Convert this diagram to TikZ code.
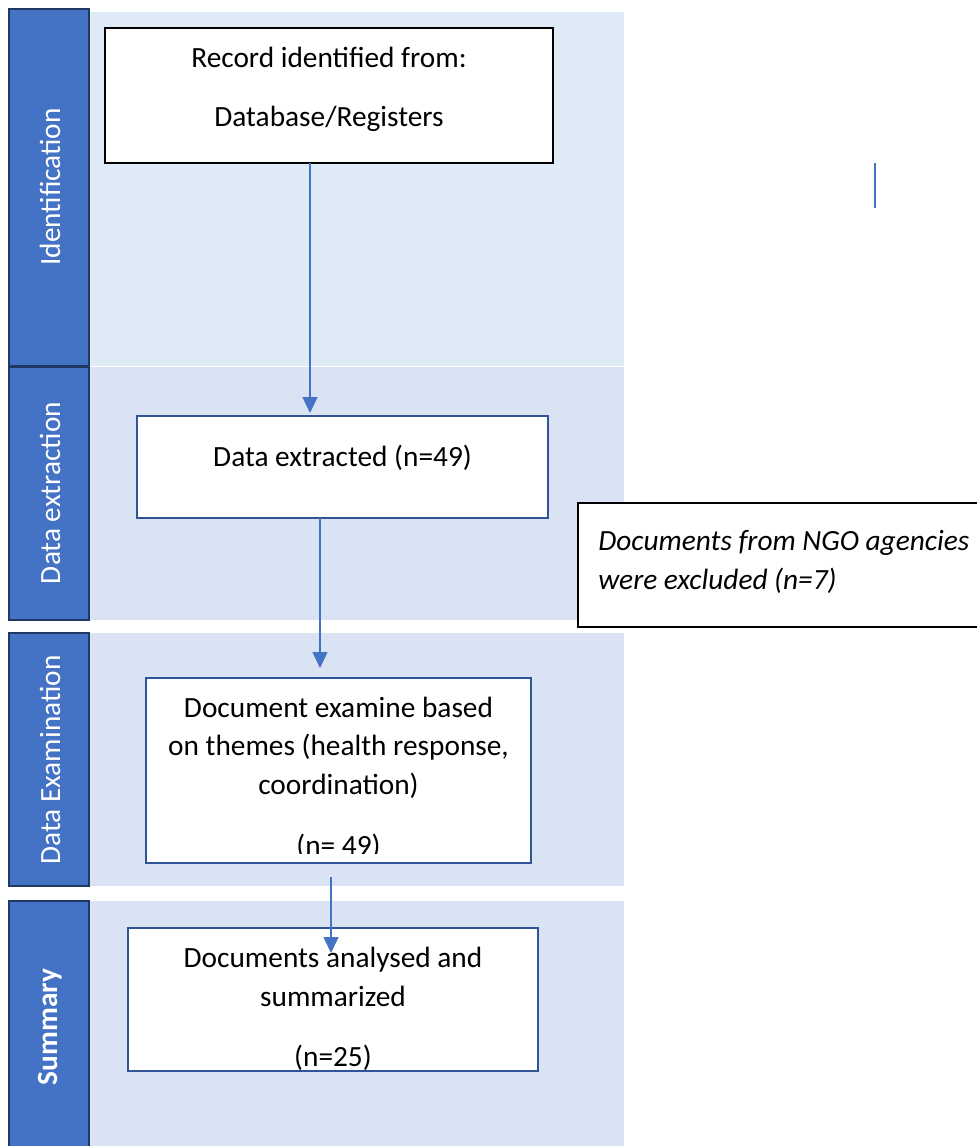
\documentclass[tikz,border=0pt]{standalone}
\usepackage{fontspec}
\setmainfont{Carlito}
\usetikzlibrary{arrows.meta,calc}
\definecolor{sidefill}{HTML}{4472C4}
\definecolor{sideline}{HTML}{1F3864}
\definecolor{panelA}{HTML}{DEEBF7}
\definecolor{panelB}{HTML}{DAE3F3}
\definecolor{boxline}{HTML}{2F5597}
\definecolor{arrowc}{HTML}{4472C4}
\begin{document}
\begin{tikzpicture}[x=0.75pt,y=-0.75pt,
  font=\fontsize{22}{26}\selectfont,
  side/.style={fill=sidefill,draw=sideline,line width=1.8pt},
  sidetext/.style={text=white,rotate=90,anchor=center,inner sep=0pt},
  box/.style={draw=boxline,fill=white,line width=1.7pt,inner sep=0pt,outer sep=0pt},
  blackbox/.style={draw=black,fill=white,line width=0.9pt,inner sep=0pt,outer sep=0pt},
  txt/.style={anchor=base,inner sep=0pt},
  arr/.style={draw=arrowc,line width=1.1pt,-{Triangle[width=11.25pt,length=12pt]}}]
\useasboundingbox (0,0) rectangle (976,1146);
% panels
\fill[panelA] (89,12) rectangle (624,366);
\fill[panelB] (89,367) rectangle (624,620);
\fill[panelB] (89,633) rectangle (624,886);
\fill[panelB] (89,901) rectangle (624,1160);
% sidebars
\draw[side] (9,9) rectangle (89,366);
\draw[side] (9,367) rectangle (89,620);
\draw[side] (9,633) rectangle (89,886);
\draw[side] (9,901) rectangle (89,1170);
\node[sidetext] (s1) at (50,187) {Identification};
\node[sidetext] (s2) at (50,493) {Data extraction};
\node[sidetext] (s3) at (50,760) {Data Examination};
\node[sidetext,font=\fontsize{22}{26}\selectfont\bfseries] (s4) at (50,1027) {Summary};
% boxes
\node[blackbox,minimum width=336pt,minimum height=101.25pt] (rec) at (329,95.5) {};
\node[box,minimum width=308.25pt,minimum height=76.5pt] (ext) at (342.5,467) {};
\node[box,minimum width=288.75pt,minimum height=138.75pt] (exa) at (338.5,770.5) {};
\node[box,minimum width=307.5pt,minimum height=107.25pt] (sum) at (333,999.5) {};
\node[blackbox,line width=1.2pt,minimum width=312.75pt,minimum height=93pt] (ngo) at (786.5,565) {};
% texts
\node[txt] (t1) at (329,67.5) {Record identified from:};
\node[txt] (t2) at (329,126.5) {Database/Registers};
\node[txt] (t3) at (342.5,466.5) {Data extracted (n=49)};
\node[txt] (t4) at (338.5,717.5) {Document examine based};
\node[txt] (t5) at (338.5,755.5) {on themes (health response,};
\node[txt] (t6) at (338.5,794) {coordination)};
\begin{scope}
\clip (146,678) rectangle (531,853);
\node[txt] (t7) at (338.5,855) {(n= 49)};
\end{scope}
\node[txt] (t8) at (333,967.5) {Documents analysed and};
\node[txt] (t9) at (333,1006.5) {summarized};
\node[txt] (t10) at (333,1066.5) {(n=25)};
\node[txt,anchor=base west,font=\fontsize{22}{26}\selectfont\itshape] (t11) at (598,550.5) {Documents from NGO agencies};
\node[txt,anchor=base west,font=\fontsize{22}{26}\selectfont\itshape] (t12) at (598,589.5) {were excluded (n=7)};
% connectors
\draw[arr,shorten >=2.25pt] (rec.south -| 310,0) -- (ext.north -| 310,0);
\draw[arr,shorten >=7.5pt] (ext.south -| 320,0) -- (exa.north -| 320,0);
\draw[arr,shorten <=10.5pt,shorten >=-18.75pt] (exa.south -| 331,0) -- (sum.north -| 331,0);
\coordinate (l1) at (875,163);
\coordinate (l2) at (875,208);
\draw[draw=arrowc,line width=1.1pt] (l1) -- (l2);
\end{tikzpicture}
\end{document}
